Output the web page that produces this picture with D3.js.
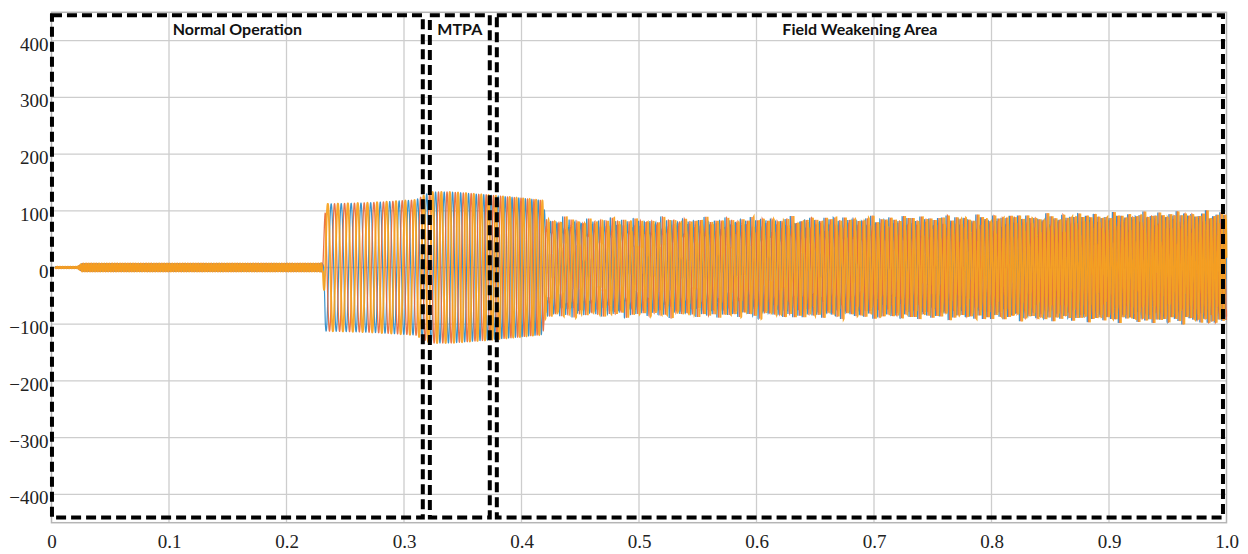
<!DOCTYPE html>
<html>
<head>
<meta charset="utf-8">
<script src="https://cdn.jsdelivr.net/npm/d3@7"></script>
<style>
  html, body { margin: 0; padding: 0; background: #fff; }
  svg { display: block; }
  .axisLabel { font-family: "Liberation Serif", "Times New Roman", Times, "DejaVu Serif", serif; font-size: 19px; fill: #222; }
  .regionLabel { font-family: Lato, "Open Sans", sans-serif; font-weight: bold; font-size: 16px; fill: #111; }
</style>
</head>
<body>
<svg id="chart" width="1248" height="554"></svg>
<script>
// ---------------- data ----------------
const xTicks = [0, 0.1, 0.2, 0.3, 0.4, 0.5, 0.6, 0.7, 0.8, 0.9, 1.0];
const yTicks = [-400, -300, -200, -100, 0, 100, 200, 300, 400];

const regionNames = ["Normal Operation", "MTPA", "Field Weakening Area"];
const regionStart = [0.0004, 0.322, 0.379];
const regionEnd   = [0.316, 0.373, 0.997];
const regionTop = 445, regionBottom = -441;

const phaseNames = ["ia", "ib", "ic"];
// envelope of the three-phase currents (peak amplitude, A)
const envTime = [0.003, 0.022, 0.026, 0.228, 0.231, 0.233, 0.27, 0.31, 0.322, 0.34, 0.37, 0.40, 0.418, 0.421, 0.45, 0.5, 0.6, 0.7, 0.8, 0.9, 0.95, 1.0];
const envAmp  = [1.5,   1.5,   7,     7,     8,     112,   114,  119,  133,   133,  128,  122,  118,   80,    78,   78,  79,  80,  82,  85,  87,   88];
// electrical frequency (Hz)
const freqTime = [0.003, 0.23, 0.231, 0.32, 0.42, 1.0];
const freqHz   = [450,   450,  115,   130,  190,  330];
// harmonic content (ripple) in the field-weakening region
const distTime  = [0, 0.418, 0.421, 1.0];
const distLevel = [0, 0,     1,     1.1];
const harmOrder = [5.47, 6.71, 11.3];
const harmAmp   = [0.06, 0.05, 0.04];

// ---------------- chart ----------------
const svg = d3.select("#chart");
const x = d3.scaleLinear().domain([0, 1]).range([51.5, 1226.5]);
const y = d3.scaleLinear().domain([-450, 450]).range([522.7, 12.3]);

// grid
const grid = svg.append("g");
grid.selectAll(".gx").data(xTicks.slice(1, -1)).enter().append("line")
  .attr("x1", d => x(d)).attr("x2", d => x(d))
  .attr("y1", y(450)).attr("y2", y(-450))
  .attr("stroke", "#cdcdcd").attr("stroke-width", 1.3);
grid.selectAll(".gy").data(yTicks).enter().append("line")
  .attr("x1", x(0)).attr("x2", x(1))
  .attr("y1", d => y(d)).attr("y2", d => y(d))
  .attr("stroke", "#cdcdcd").attr("stroke-width", 1.3);
// frame
svg.append("rect").attr("x", x(0)).attr("y", y(450))
  .attr("width", x(1) - x(0)).attr("height", y(-450) - y(450))
  .attr("fill", "none").attr("stroke", "#b5b5b5").attr("stroke-width", 1.5);

// signal
const ampAt = d3.scaleLinear().domain(envTime).range(envAmp).clamp(true);
const freqAt = d3.scaleLinear().domain(freqTime).range(freqHz).clamp(true);
const distAt = d3.scaleLinear().domain(distTime).range(distLevel).clamp(true);
const dt = 0.00003;
const series = phaseNames.map(() => []);
let ph = 0;
for (let t = envTime[0]; t <= 1.0 + 1e-9; t += dt) {
  const A = ampAt(t), dl = distAt(t);
  for (let k = 0; k < 3; k++) {
    const off = -k * 2 * Math.PI / 3;
    let v = Math.sin(ph + off);
    if (dl > 0) {
      for (let h = 0; h < harmOrder.length; h++) v += dl * harmAmp[h] * Math.sin(harmOrder[h] * (ph + off));
    }
    series[k].push([t, A * v]);
  }
  ph += 2 * Math.PI * freqAt(t) * dt;
}
const colors = ["#2a8ac6", "#e8693a", "#f7a11c"];
const widths = [1.2, 1.3, 1.9];
const line = d3.line().x(d => x(d[0])).y(d => y(d[1]));
svg.append("g").selectAll("path").data(series).enter().append("path")
  .attr("d", line)
  .attr("fill", "none")
  .attr("stroke", (d, i) => colors[i])
  .attr("stroke-width", (d, i) => widths[i])
  .attr("stroke-opacity", 0.92);

// axes
const fmtX = d => d === 0 ? "0" : d3.format(".1f")(d);
const xAxis = svg.append("g").attr("transform", `translate(0,${y(-450)})`)
  .call(d3.axisBottom(x).tickValues(xTicks).tickFormat(fmtX).tickSize(0).tickPadding(7));
const yAxis = svg.append("g").attr("transform", `translate(${x(0) - 2},0)`)
  .call(d3.axisLeft(y).tickValues(yTicks).tickSize(0).tickPadding(1));
[xAxis, yAxis].forEach(a => {
  a.select(".domain").remove();
  a.attr("font-family", null).attr("font-size", null);
  a.selectAll("text").attr("class", "axisLabel").attr("fill", null);
});
xAxis.selectAll("text").attr("dy", "0.95em");
yAxis.selectAll("text").attr("dy", "0.5em");

// dashed region boxes
const boxes = svg.append("g");
regionNames.forEach((name, i) => {
  boxes.append("rect")
    .attr("x", x(regionStart[i])).attr("y", y(regionTop))
    .attr("width", x(regionEnd[i]) - x(regionStart[i]))
    .attr("height", y(regionBottom) - y(regionTop))
    .attr("fill", "none").attr("stroke", "#000")
    .attr("stroke-width", 4).attr("stroke-dasharray", "10,5");
  boxes.append("text")
    .attr("class", "regionLabel")
    .attr("x", x((regionStart[i] + regionEnd[i]) / 2)).attr("y", 35)
    .attr("text-anchor", "middle")
    .text(name);
});
</script>
</body>
</html>
